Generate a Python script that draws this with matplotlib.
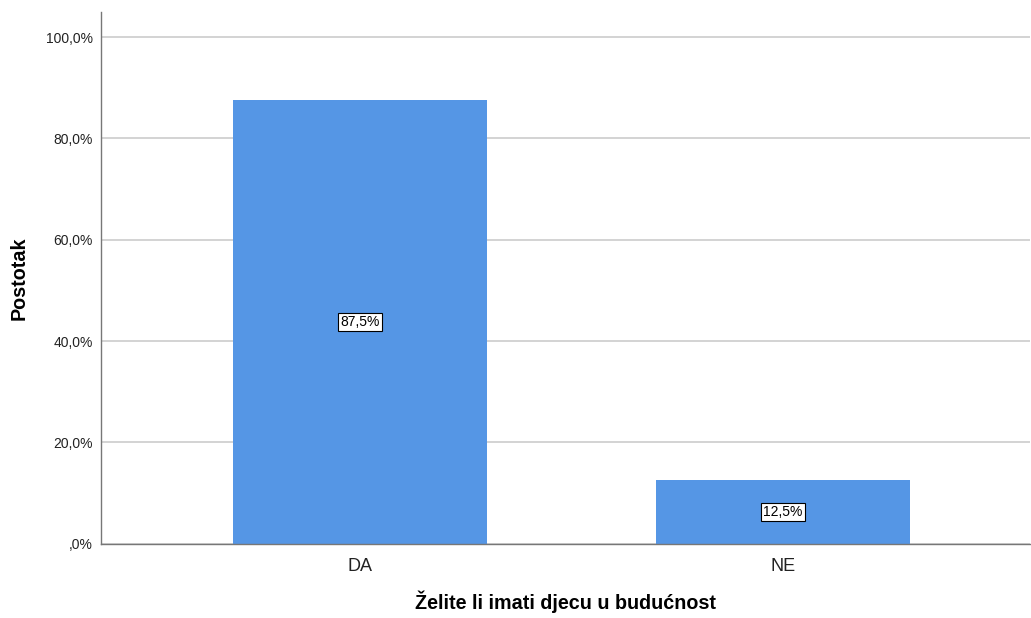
import matplotlib
matplotlib.use("Agg")
import matplotlib.pyplot as plt

categories = ["DA", "NE"]
percent = [87.5, 12.5]
y_ticks = [0, 20, 40, 60, 80, 100]
y_tick_labels = [",0%", "20,0%", "40,0%", "60,0%", "80,0%", "100,0%"]

plt.rcParams["font.family"] = ["Liberation Sans", "DejaVu Sans"]

fig = plt.figure(figsize=(10.31, 6.18), dpi=100)
ax = fig.add_axes([0.098, 0.12, 0.901, 0.861])

x = list(range(len(categories)))
ax.bar(x, percent, width=0.6, color="#5596e5", zorder=2)

# value labels in white boxes at the middle of each bar
for xi, v in zip(x, percent):
    ax.text(xi, v / 2, ("%.1f%%" % v).replace(".", ","), ha="center", va="center",
            fontsize=10, zorder=3,
            bbox=dict(boxstyle="square,pad=0.15", facecolor="white", edgecolor="black", linewidth=0.8))

ax.set_xlim(-0.612, 1.584)
ax.set_ylim(0, 105)
ax.set_yticks(y_ticks)
ax.set_yticklabels(y_tick_labels, fontsize=10, color="#222222")
ax.set_xticks(x)
ax.set_xticklabels(categories, fontsize=13, color="#222222")
ax.tick_params(axis="both", length=0)
ax.tick_params(axis="x", pad=10)
ax.tick_params(axis="y", pad=6)

ax.yaxis.grid(True, color="#cccccc", linewidth=1.2, zorder=0)
ax.set_axisbelow(True)

for side in ["top", "right"]:
    ax.spines[side].set_visible(False)
for side in ["left", "bottom"]:
    ax.spines[side].set_color("#777777")
    ax.spines[side].set_linewidth(1.0)

ax.set_xlabel("Želite li imati djecu u budućnost", fontsize=14.2, fontweight="bold", labelpad=11)
ax.set_ylabel("Postotak", fontsize=14.2, fontweight="bold", labelpad=12)

fig.savefig("out.png", dpi=100, facecolor="white")
